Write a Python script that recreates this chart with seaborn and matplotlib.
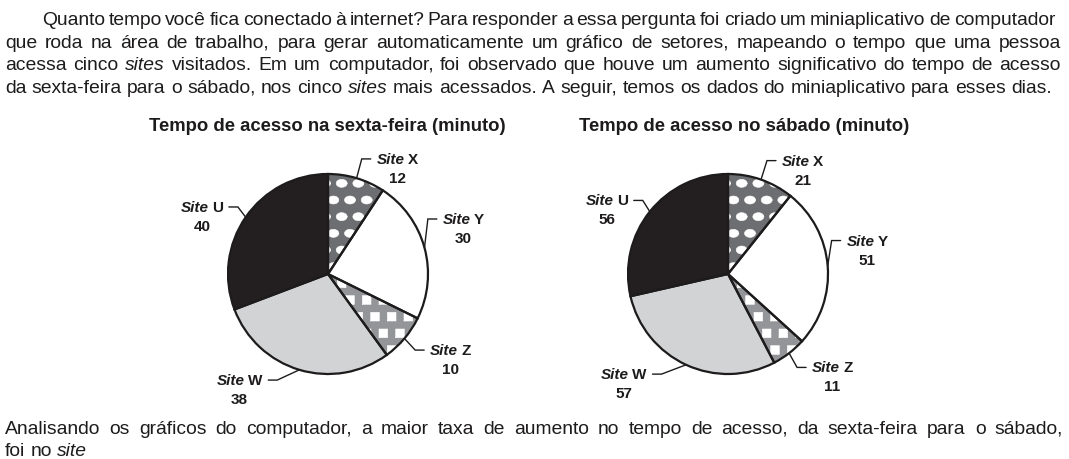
import matplotlib
matplotlib.use("Agg")
import matplotlib.pyplot as plt
import matplotlib.hatch as mhatch
from matplotlib.path import Path
from matplotlib.transforms import IdentityTransform
import numpy as np
import seaborn as sns

# data (minutes)
sites = ["X", "Y", "Z", "W", "U"]
friday = [12, 30, 10, 38, 40]
saturday = [21, 51, 11, 57, 56]
titles = ["Tempo de acesso na sexta-feira (minuto)",
          "Tempo de acesso no sábado (minuto)"]
slice_colors = ["#6d6e71", "#ffffff", "#939598", "#d1d3d4", "#231f20"]
slice_hatches = ["o", "", "*", "", ""]
# small hand nudges (pixels, +y down) of each callout, as laid out in the original
label_shift = [(0, -2), (-14, -24), (-3, 0), (-17, -7), (7, 0)]

# words between underscores are set in italics
intro = [
    "Quanto tempo você fica conectado à internet? Para responder a essa pergunta foi criado um miniaplicativo de computador",
    "que roda na área de trabalho, para gerar automaticamente um gráfico de setores, mapeando o tempo que uma pessoa",
    "acessa cinco _sites_ visitados. Em um computador, foi observado que houve um aumento significativo do tempo de acesso",
    "da sexta-feira para o sábado, nos cinco _sites_ mais acessados. A seguir, temos os dados do miniaplicativo para esses dias.",
]
question = [
    "Analisando os gráficos do computador, a maior taxa de aumento no tempo de acesso, da sexta-feira para o sábado,",
    "foi no _site_",
]


# hatch textures of the print original: white ellipses ('o') and white squares ('*')
class FilledShape(mhatch.Shapes):
    filled = True
    size = 1.0
    char = "o"
    outline = None

    def __init__(self, hatch, density):
        self.num_rows = hatch.count(self.char) * density
        self.shape_vertices = self.outline
        self.shape_codes = np.full(len(self.outline), Path.LINETO, dtype=Path.code_type)
        self.shape_codes[0] = Path.MOVETO
        super().__init__(hatch, density)


class Ellipses(FilledShape):
    char = "o"
    t = np.linspace(0, 2 * np.pi, 33)
    outline = np.column_stack([0.33 * np.cos(t), 0.24 * np.sin(t)])


class Squares(FilledShape):
    char = "*"
    outline = np.array([[-0.26, -0.26], [0.26, -0.26], [0.26, 0.26],
                        [-0.26, 0.26], [-0.26, -0.26]])


try:
    for i, cls in enumerate(mhatch._hatch_types):
        if cls is mhatch.SmallCircles:
            mhatch._hatch_types[i] = Ellipses
        elif cls is mhatch.Stars:
            mhatch._hatch_types[i] = Squares
except AttributeError:
    pass

sns.set_theme(style="white")
plt.rcParams["font.family"] = ["Liberation Sans", "DejaVu Sans"]
plt.rcParams["hatch.linewidth"] = 0.4

INK = "#1d1b1c"
W, H = 1069, 460
fig = plt.figure(figsize=(W / 100, H / 100), dpi=100)
renderer = fig.canvas.get_renderer()


def put(x, y, s, **kw):
    # x, y in pixels from the top left corner, y is the baseline
    kw.setdefault("color", INK)
    return fig.text(x, H - y, s, transform=IdentityTransform(), va="baseline", **kw)


def width(s, **kw):
    t = put(0, 0, s, **kw)
    w = t.get_window_extent(renderer).width
    t.remove()
    return w


def space(**kw):
    return width("a a", **kw) - width("aa", **kw)


def words_of(line, size):
    out = []
    for w in line.split():
        style = "italic" if w.startswith("_") else "normal"
        out.append((w.strip("_"), dict(fontsize=size, fontstyle=style)))
    return out


def natural(line, size):
    words = words_of(line, size)
    return sum(width(w, **p) for w, p in words) + (len(words) - 1) * space(fontsize=size)


def text_line(line, x0, x1, y, size, justify=True):
    while True:
        words = words_of(line, size)
        ws = [width(w, **p) for w, p in words]
        sp = space(fontsize=size)
        gap = (x1 - x0 - sum(ws)) / (len(ws) - 1) if justify else sp
        if gap >= 0.55 * sp:
            break
        size *= 0.99
    x = x0
    for (w, p), wd in zip(words, ws):
        put(x, y, w, **p)
        x += wd + gap


# body size so the last (unjustified) intro line spans its width in the original
body = 14 * 1053 / natural(intro[3], 14)

text_line(intro[0], 42, 1055, 25, body)
text_line(intro[1], 5, 1061, 48, body)
text_line(intro[2], 5, 1061, 70, body)
text_line(intro[3], 5, 1061, 93, body, justify=False)
text_line(question[0], 5, 1063, 434, body)
text_line(question[1], 5, 1063, 456, body, justify=False)

LABEL = 11
bold = dict(fontsize=LABEL, fontweight="bold")
bold_it = dict(fontsize=LABEL, fontweight="bold", fontstyle="italic")


def draw_pie(cx, cy, values, title, title_x):
    R = 100
    ax = fig.add_axes([(cx - 1.5 * R) / W, (H - cy - 1.5 * R) / H, 3 * R / W, 3 * R / H])
    kw = dict(startangle=90, counterclock=False, radius=1)
    wedges, _ = ax.pie(values, colors=slice_colors,
                       wedgeprops=dict(linewidth=0), **kw)
    ax.pie(values, colors=["none"] * len(values), hatch=slice_hatches,
           wedgeprops=dict(edgecolor="white", linewidth=0), **kw)
    ax.pie(values, colors=["none"] * len(values),
           wedgeprops=dict(edgecolor=INK, linewidth=1.6), **kw)
    ax.set_xlim(-1.5, 1.5)
    ax.set_ylim(-1.5, 1.5)
    ax.set_aspect("equal")
    ax.axis("off")

    for wedge, site, val, (dx, dy) in zip(wedges, sites, values, label_shift):
        mid = np.deg2rad((wedge.theta1 + wedge.theta2) / 2)
        c, s = np.cos(mid), np.sin(mid)
        side = 1 if c >= 0 else -1
        ex, ey = 1.18 * c + dx / R, 1.18 * s - dy / R
        hx = ex + side * 0.09
        ax.plot([c, ex, hx], [s, ey, ey], color=INK, lw=1.0, clip_on=False,
                solid_joinstyle="miter")
        px, py = ax.transData.transform((hx, ey))
        py = H - py
        w1 = width("Site", **bold_it)
        sp = 0.75 * space(**bold)
        w2 = width(site, **bold)
        total = w1 + sp + w2
        x0 = px + 6 if side > 0 else px - 6 - total
        base = py + 4
        put(x0, base, "Site", **bold_it)
        put(x0 + w1 + sp, base, site, **bold)
        put(x0 + total / 2, base + 19, str(val), ha="center", **bold)

    put(title_x, 131, title, ha="center", fontsize=13.3, fontweight="bold")


draw_pie(328, 275, friday, titles[0], 327)
draw_pie(728, 275, saturday, titles[1], 744)

fig.savefig("out.png", dpi=100, facecolor="white")
